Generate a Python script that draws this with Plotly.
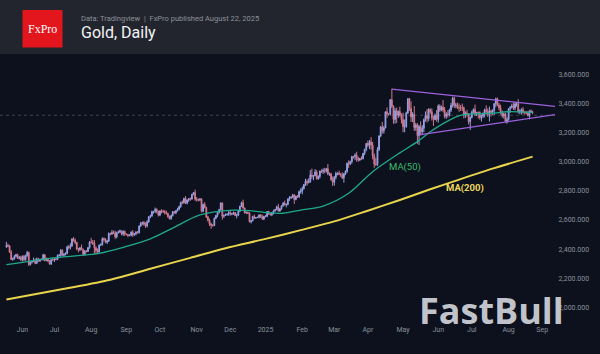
import pandas as pd
import plotly.graph_objects as go

# ---------------- data ----------------
dates = pd.bdate_range("2024-05-20", "2025-08-22")
first_open = 2415
closes = [
    2425, 2420, 2379, 2329, 2334,
    2351, 2361, 2338, 2343, 2327,
    2350, 2327, 2355, 2376, 2294,
    2311, 2316, 2325, 2303, 2333,
    2319, 2329, 2328, 2360, 2322,
    2334, 2319, 2298, 2327, 2326,
    2332, 2331, 2356, 2356, 2392,
    2358, 2364, 2371, 2415, 2411,
    2422, 2469, 2459, 2445, 2400,
    2396, 2409, 2397, 2364, 2387,
    2384, 2410, 2447, 2446, 2442,
    2409, 2390, 2382, 2427, 2431,
    2472, 2465, 2447, 2456, 2507,
    2504, 2513, 2512, 2484, 2512,
    2518, 2524, 2504, 2521, 2503,
    2500, 2493, 2495, 2516, 2497,
    2506, 2516, 2512, 2558, 2578,
    2582, 2570, 2559, 2587, 2622,
    2628, 2657, 2657, 2672, 2658,
    2634, 2662, 2659, 2656, 2653,
    2643, 2622, 2608, 2630, 2657,
    2649, 2663, 2674, 2692, 2721,
    2720, 2748, 2715, 2736, 2747,
    2743, 2774, 2788, 2743, 2736,
    2736, 2742, 2659, 2706, 2685,
    2619, 2598, 2573, 2565, 2562,
    2611, 2631, 2651, 2671, 2716,
    2625, 2632, 2635, 2639, 2650,
    2640, 2643, 2650, 2631, 2633,
    2660, 2694, 2718, 2681, 2648,
    2652, 2646, 2587, 2594, 2623,
    2612, 2617, 2618, 2634, 2621,
    2606, 2624, 2625, 2657, 2640,
    2636, 2648, 2662, 2670, 2690,
    2662, 2677, 2697, 2715, 2703,
    2708, 2743, 2754, 2755, 2771,
    2740, 2763, 2760, 2794, 2798,
    2815, 2843, 2865, 2855, 2861,
    2908, 2898, 2903, 2928, 2883,
    2898, 2935, 2933, 2939, 2936,
    2951, 2915, 2916, 2877, 2858,
    2893, 2918, 2920, 2911, 2910,
    2889, 2916, 2934, 2989, 2984,
    3001, 3035, 3034, 3044, 3022,
    3011, 3021, 3020, 3057, 3085,
    3124, 3113, 3134, 3114, 3038,
    2983, 2982, 3082, 3175, 3238,
    3211, 3231, 3342, 3327, 3327,
    3424, 3380, 3289, 3349, 3319,
    3344, 3317, 3288, 3239, 3241,
    3334, 3431, 3365, 3306, 3325,
    3234, 3251, 3178, 3240, 3205,
    3229, 3289, 3315, 3295, 3357,
    3342, 3300, 3288, 3318, 3289,
    3381, 3353, 3373, 3354, 3310,
    3326, 3322, 3354, 3386, 3433,
    3385, 3388, 3369, 3369, 3368,
    3368, 3323, 3333, 3328, 3274,
    3303, 3338, 3357, 3326, 3337,
    3336, 3302, 3313, 3325, 3355,
    3344, 3324, 3347, 3339, 3350,
    3397, 3431, 3387, 3368, 3336,
    3314, 3326, 3275, 3289, 3363,
    3373, 3381, 3368, 3396, 3398,
    3342, 3348, 3356, 3336, 3336,
    3332, 3315, 3347, 3339, 3335,
]
upper_wick = [
    25, 12, 8, 14, 8,
    8, 7, 8, 10, 12,
    6, 10, 7, 12, 7,
    5, 7, 17, 10, 9,
    7, 6, 8, 8, 6,
    8, 6, 6, 5, 11,
    6, 6, 8, 10, 8,
    6, 8, 7, 9, 13,
    18, 6, 14, 14, 5,
    8, 6, 22, 7, 6,
    6, 4, 8, 30, 16,
    20, 10, 14, 5, 8,
    8, 8, 10, 8, 8,
    6, 18, 14, 14, 8,
    9, 10, 4, 9, 6,
    4, 5, 6, 6, 14,
    4, 7, 8, 4, 8,
    7, 11, 14, 11, 3,
    8, 7, 5, 13, 8,
    6, 4, 11, 11, 12,
    10, 7, 8, 7, 3,
    5, 5, 9, 6, 4,
    12, 4, 16, 5, 3,
    6, 7, 2, 20, 14,
    10, 8, 8, 6, 16,
    6, 8, 10, 8, 5,
    6, 4, 3, 5, 5,
    4, 4, 10, 6, 15,
    10, 6, 7, 4, 10,
    8, 3, 8, 21, 4,
    5, 6, 6, 5, 6,
    14, 3, 4, 4, 6,
    15, 4, 8, 4, 6,
    8, 7, 8, 6, 7,
    20, 5, 4, 7, 18,
    3, 5, 9, 8, 8,
    6, 3, 8, 8, 19,
    15, 4, 17, 13, 25,
    34, 44, 5, 20, 14,
    8, 3, 12, 15, 18,
    6, 33, 9, 7, 21,
    8, 13, 7, 18, 12,
    17, 5, 6, 4, 20,
    5, 5, 4, 13, 24,
    12, 5, 16, 2, 2,
    4, 21, 14, 34, 22,
    17, 41, 17, 6, 7,
    34, 15, 1, 30, 3,
    6, 76, 6, 18, 22,
    7, 33, 15, 48, 48,
    9, 4, 6, 48, 14,
    56, 14, 13, 12, 36,
    21, 6, 29, 45, 9,
    9, 22, 13, 12, 36,
    11, 12, 11, 49, 20,
    13, 26, 9, 17, 12,
    13, 15, 17, 30, 19,
    30, 10, 12, 22, 4,
    7, 12, 8, 34, 5,
    6, 9, 9, 13, 8,
    31, 22, 30, 9, 9,
    6, 8, 8, 15, 22,
    14, 8, 8, 16, 1,
    8, 16, 24, 13, 12,
    30, 10, 10, 18, 10,
    12, 13, 8, 11, 10,
]
lower_wick = [
    6, 8, 6, 4, 9,
    6, 8, 5, 10, 8,
    12, 8, 6, 8, 10,
    6, 10, 6, 7, 5,
    6, 8, 5, 7, 6,
    6, 8, 5, 7, 8,
    14, 8, 7, 7, 8,
    6, 8, 7, 7, 13,
    14, 6, 8, 12, 8,
    18, 10, 5, 11, 6,
    7, 5, 8, 8, 14,
    40, 20, 14, 8, 6,
    7, 12, 7, 12, 8,
    10, 7, 8, 14, 10,
    5, 8, 10, 13, 13,
    6, 12, 5, 8, 13,
    5, 12, 7, 5, 6,
    12, 12, 14, 10, 6,
    10, 7, 14, 9, 14,
    10, 8, 14, 8, 16,
    6, 8, 5, 6, 7,
    6, 10, 5, 8, 9,
    12, 9, 6, 8, 12,
    12, 4, 5, 12, 10,
    8, 7, 8, 5, 6,
    6, 9, 14, 26, 8,
    5, 6, 12, 7, 8,
    23, 12, 5, 5, 11,
    10, 8, 8, 5, 20,
    7, 5, 6, 5, 4,
    7, 6, 4, 11, 3,
    4, 4, 4, 8, 7,
    5, 8, 6, 7, 5,
    6, 10, 10, 5, 3,
    4, 7, 8, 7, 3,
    16, 8, 12, 11, 6,
    30, 5, 9, 10, 13,
    22, 6, 10, 20, 3,
    5, 18, 26, 3, 6,
    8, 14, 11, 18, 16,
    12, 9, 13, 10, 25,
    23, 15, 12, 4, 15,
    8, 33, 9, 12, 27,
    8, 15, 13, 24, 22,
    12, 7, 8, 5, 12,
    14, 13, 27, 32, 23,
    26, 12, 12, 10, 7,
    18, 19, 3, 27, 13,
    7, 13, 29, 29, 54,
    20, 9, 27, 37, 38,
    9, 7, 17, 34, 35,
    24, 22, 56, 64, 25,
    23, 27, 15, 27, 18,
    14, 19, 43, 4, 15,
    22, 13, 7, 16, 13,
    17, 20, 12, 14, 14,
    17, 19, 8, 27, 21,
    21, 27, 23, 19, 19,
    57, 7, 7, 15, 13,
    40, 15, 27, 15, 22,
    22, 18, 49, 30, 18,
    30, 24, 6, 16, 12,
    13, 19, 7, 15, 8,
    28, 9, 14, 16, 20,
    11, 17, 26, 6, 13,
    8, 4, 25, 5, 10,
]

ma50_dates = ["2024-05-20", "2024-06-26", "2024-08-08", "2024-08-30", "2024-09-23",
              "2024-10-11", "2024-11-05", "2024-12-04", "2024-12-18", "2025-01-02",
              "2025-01-16", "2025-01-31", "2025-02-20", "2025-03-14", "2025-04-04",
              "2025-04-29", "2025-05-14", "2025-05-26", "2025-06-11", "2025-06-23",
              "2025-07-18", "2025-07-31", "2025-08-22"]
ma50_values = [2293, 2337, 2371, 2415, 2470, 2544, 2634, 2667, 2664, 2650, 2646, 2668,
               2695, 2783, 2931, 3060, 3137, 3205, 3285, 3320, 3332, 3342, 3338]

ma200_dates = ["2024-05-20", "2024-07-11", "2024-08-19", "2024-09-23", "2024-10-28",
               "2024-11-27", "2025-01-01", "2025-01-31", "2025-03-03", "2025-03-31",
               "2025-04-29", "2025-05-26", "2025-06-20", "2025-07-21", "2025-08-22"]
ma200_values = [2055, 2131, 2190, 2265, 2340, 2406, 2470, 2530, 2590, 2660, 2737,
                2810, 2880, 2955, 3034]

tri_upper_dates = ["2025-04-22", "2025-09-11"]
tri_upper_values = [3497, 3379]
tri_lower_dates = ["2025-05-15", "2025-09-11"]
tri_lower_values = [3183, 3322]

month_ticks = ["2024-06-03", "2024-07-01", "2024-08-01", "2024-09-02", "2024-10-01",
               "2024-11-01", "2024-12-02", "2025-01-01", "2025-02-03", "2025-03-03",
               "2025-04-01", "2025-05-01", "2025-06-02", "2025-07-01", "2025-08-01",
               "2025-09-01"]
month_labels = ["Jun", "Jul", "Aug", "Sep", "Oct", "Nov", "Dec", "2025", "Feb", "Mar",
                "Apr", "May", "Jun", "Jul", "Aug", "Sep"]
price_ticks = [2000, 2200, 2400, 2600, 2800, 3000, 3200, 3400, 3600]
last_price = 3318

# ---------------- derived OHLC ----------------
assert len(closes) == len(dates) == len(upper_wick) == len(lower_wick)
opens = [first_open] + closes[:-1]
highs = [max(o, c) + u for o, c, u in zip(opens, closes, upper_wick)]
lows = [min(o, c) - w for o, c, w in zip(opens, closes, lower_wick)]

BG = "#0c111d"
HEADER = "#22252d"
UP = "#97a2e6"
DOWN = "#d27a8e"
TXT = "#8b919c"

W, H = 600, 354
L, R, T, B = 0, 45, 54, 32
PW, PH = W - L - R, H - T - B


def px(x):
    return (x - L) / PW


def py(y):
    return (H - B - y) / PH


fig = go.Figure()
fig.add_trace(go.Candlestick(
    x=dates, open=opens, high=highs, low=lows, close=closes,
    increasing=dict(line=dict(color=UP, width=1), fillcolor=UP),
    decreasing=dict(line=dict(color=DOWN, width=1), fillcolor=DOWN),
    whiskerwidth=0, showlegend=False, hoverinfo="skip",
))
fig.add_trace(go.Scatter(x=ma50_dates, y=ma50_values, mode="lines",
                         line=dict(color="#1fa98c", width=1.3, shape="spline", smoothing=0.8),
                         showlegend=False, hoverinfo="skip"))
fig.add_trace(go.Scatter(x=ma200_dates, y=ma200_values, mode="lines",
                         line=dict(color="#e9d54c", width=2, shape="spline", smoothing=0.8),
                         showlegend=False, hoverinfo="skip"))
for dx, dy in [(tri_upper_dates, tri_upper_values), (tri_lower_dates, tri_lower_values)]:
    fig.add_trace(go.Scatter(x=dx, y=dy, mode="lines",
                             line=dict(color="#9d62dc", width=1.3),
                             showlegend=False, hoverinfo="skip"))

shapes = [
    # last price dotted line
    dict(type="line", xref="paper", x0=0, x1=1, yref="y", y0=last_price, y1=last_price,
         line=dict(color="rgba(150,160,180,0.35)", width=1, dash="dot"), layer="below"),
    # header band
    dict(type="rect", xref="paper", yref="paper", x0=px(0), x1=px(W), y0=py(T), y1=py(0),
         fillcolor=HEADER, line=dict(width=0), layer="above"),
    # logo
    dict(type="rect", xref="paper", yref="paper", x0=px(22.5), x1=px(62.5), y0=py(47.5),
         y1=py(10), fillcolor="#e3161e", line=dict(width=0), layer="above"),
]

annotations = [
    dict(text="FxPro", xref="paper", yref="paper", x=px(42.5), y=py(29), showarrow=False,
         xanchor="center", yanchor="middle",
         font=dict(family="Liberation Serif", size=12, color="#ffffff")),
    dict(text="Data: Tradingview  |  FxPro published August 22, 2025", xref="paper",
         yref="paper", x=px(79), y=py(18), showarrow=False, xanchor="left", yanchor="middle",
         font=dict(family="Roboto", size=7.5, color="#8d919b")),
    dict(text="Gold, Daily", xref="paper", yref="paper", x=px(79), y=py(33), showarrow=False,
         xanchor="left", yanchor="middle",
         font=dict(family="Roboto", size=16, color="#f2f3f5")),
    dict(text="MA(50)", xref="paper", yref="paper", x=px(405), y=py(167), showarrow=False,
         xanchor="center", yanchor="middle",
         font=dict(family="Roboto", size=9.5, color="#3dbb6c")),
    dict(text="<b>MA(200)</b>", xref="paper", yref="paper", x=px(465), y=py(188),
         showarrow=False, xanchor="center", yanchor="middle",
         font=dict(family="Roboto", size=9.5, color="#ecd75c")),
    dict(text="<b>FastBull</b>", xref="paper", yref="paper", x=px(491), y=py(310),
         showarrow=False, xanchor="center", yanchor="middle",
         font=dict(family="Open Sans", size=36, color="rgba(205,208,214,0.95)")),
]

fig.update_layout(
    width=W, height=H, margin=dict(l=L, r=R, t=T, b=B, pad=0),
    paper_bgcolor=BG, plot_bgcolor=BG,
    shapes=shapes, annotations=annotations, showlegend=False,
    xaxis=dict(type="date", range=["2024-05-14", "2025-09-11"],
               rangebreaks=[dict(bounds=["sat", "mon"])],
               rangeslider=dict(visible=False),
               tickvals=month_ticks, ticktext=month_labels,
               showgrid=False, zeroline=False, showline=False,
               ticks="outside", ticklen=1, tickcolor="rgba(0,0,0,0)",
               tickfont=dict(family="Roboto", size=7, color=TXT)),
    yaxis=dict(side="right", range=[1900, 3738], tickvals=price_ticks,
               tickformat=",.3f", showgrid=False, zeroline=False, showline=False,
               ticks="outside", ticklen=1, tickcolor="rgba(0,0,0,0)",
               tickfont=dict(family="Roboto", size=7, color=TXT)),
)

fig.write_html("out.html")
